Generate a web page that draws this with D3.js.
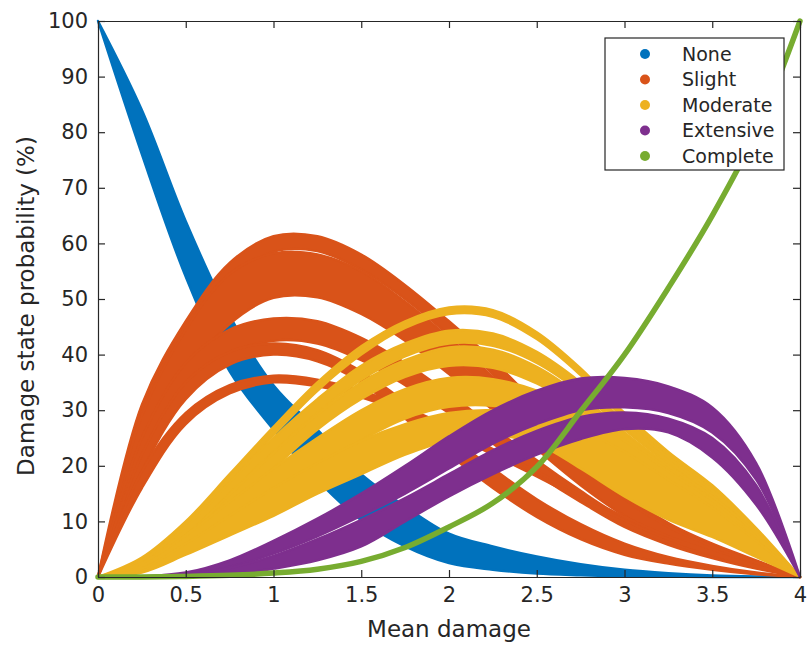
<!DOCTYPE html>
<html lang="en">
<head>
 <meta charset='utf-8'/>
 <title>Damage state probability</title>
 <script src="https://cdn.jsdelivr.net/npm/d3@7/dist/d3.min.js"></script>
 <style>
  body { margin: 0; background: #fff; }
  svg text { font-family: "DejaVu Sans", sans-serif; fill: #262626; }
  .axis path, .axis line { stroke: #262626; stroke-width: 1.2; }
 </style>
</head>
<body>
<svg id="chart" width="808" height="646"></svg>
<script>
// mean damage sample points
var xs = [0, 0.25, 0.5, 0.75, 1, 1.25, 1.5, 1.75, 2, 2.25, 2.5, 2.75, 3, 3.25, 3.5, 3.75, 4];

// probabilities (%), upper / lower edge of each band
var noneHi = [[100, 84, 64, 47, 34.5, 26.5, 18.5, 12.7, 7.8, 5.5, 3.7, 2.3, 1.3, 0.7, 0.3, 0.1, 0]];
var noneLo = [[100, 76, 54, 37, 26.5, 17.4, 10.2, 5.5, 2.5, 1.3, 0.6, 0.3, 0.1, 0.05, 0, 0, 0]];

var slightHi = [
  [0, 31, 46, 56.5, 61.3, 61.3, 58, 52.5, 46, 39, 31, 22.5, 15, 9.7, 6, 3, 0],
  [0, 29, 44.5, 54.5, 58.2, 58, 55, 49.5, 43, 36, 28.5, 21, 14, 9, 5.5, 2.6, 0],
  [0, 25, 38.5, 44.5, 46.5, 46, 43, 38.5, 33, 27, 21, 15.5, 10.5, 6.8, 4, 1.8, 0],
  [0, 22, 35, 40.5, 42, 40.8, 37, 31.5, 25.5, 19.5, 14, 9.5, 6, 3.6, 2, 0.8, 0],
  [0, 19, 29.5, 34.5, 36.2, 35.5, 33.5, 30.5, 27, 23, 19, 14.8, 10.8, 7.3, 4.5, 2, 0]
];
var slightLo = [
  [0, 27, 42.5, 53.5, 58.5, 58.6, 55.3, 50, 43.5, 36.5, 28.5, 20.5, 13.5, 8.6, 5.2, 2.6, 0],
  [0, 22, 36, 45.5, 50.2, 50.3, 47.3, 42.5, 36.5, 30, 23, 16.5, 11, 7, 4.2, 2, 0],
  [0, 20.5, 33.5, 40.2, 42.5, 42, 39, 34.5, 29.5, 24, 18.5, 13.5, 9, 5.8, 3.4, 1.5, 0],
  [0, 19, 32, 38.2, 40, 38.8, 35, 28.5, 22, 16, 10.8, 6.8, 4, 2.4, 1.3, 0.5, 0],
  [0, 16, 27.5, 33, 35, 34.3, 32.3, 29.4, 25.9, 22, 18.1, 14, 10.2, 6.8, 4.1, 1.8, 0]
];

var moderateHi = [
  [0, 3.5, 10, 18.5, 27, 35, 41.5, 46, 48.5, 48, 44, 37.5, 29.5, 22.5, 16.5, 8.8, 0],
  [0, 3, 9, 17, 25, 32, 38, 42, 44.3, 43.8, 40.5, 35, 28, 21.5, 15.5, 8.3, 0],
  [0, 2, 7.5, 14.8, 22.3, 29.2, 35, 39, 41.3, 40.9, 37.8, 32.6, 26, 20, 14.5, 7.8, 0],
  [0, 2.5, 7.5, 13.5, 19.5, 25, 30, 33.8, 35.8, 35.6, 33.5, 29.5, 24.5, 19, 13.8, 7.3, 0],
  [0, 1.5, 6, 11, 16, 20.5, 24.5, 27.5, 29.5, 30, 29, 26.5, 22.5, 17.5, 12.5, 6.5, 0]
];
var moderateLo = [
  [0, 2.8, 8.8, 17, 25.5, 33.5, 40, 44.8, 47.3, 46.8, 42.8, 36.3, 28.4, 21.6, 15.7, 8.3, 0],
  [0, 2, 7.5, 15, 22.5, 29.5, 35.5, 39.7, 42, 41.6, 38.5, 33.2, 26.5, 20.3, 14.5, 7.8, 0],
  [0, 1.2, 5.5, 12, 19.5, 26.5, 32, 36, 38, 37.6, 34.8, 30, 24, 18.3, 13.2, 7.1, 0],
  [0, 1, 4.5, 9.5, 14.5, 19.8, 24.6, 28.5, 30.6, 30.8, 29.5, 26.5, 22.3, 16.8, 11.8, 6.2, 0],
  [0, 0.8, 4, 7.5, 11, 15, 18.5, 22, 24.6, 25.5, 24, 19.5, 14.5, 10.3, 7.2, 3.6, 0]
];

var extensiveHi = [
  [0, 0.1, 0.8, 3, 6.5, 10.5, 15, 20, 25.3, 30, 33.5, 35.7, 35.8, 34.3, 30.5, 20.5, 0],
  [0, 0.05, 0.35, 1.6, 3.8, 6.8, 10.3, 14.2, 18.5, 22.8, 26.3, 28.8, 29.6, 28.5, 25, 16.5, 0]
];
var extensiveLo = [
  [0, 0.05, 0.4, 1.8, 4.2, 7.3, 11, 15, 19.5, 24, 27.5, 30, 30.5, 29.5, 26, 17.5, 0],
  [0, 0, 0.1, 0.4, 1.5, 3, 5.5, 10, 14.5, 18.5, 22, 24.8, 26.6, 26, 21.5, 13, 0]
];

var complete = [0, 0, 0.1, 0.3, 0.7, 1.4, 2.8, 5.3, 9, 13.3, 19.8, 29.8, 40, 52, 65, 80, 100];

var stateNames = ['None', 'Slight', 'Moderate', 'Extensive', 'Complete'];
var colors = ['#0072BD', '#D95319', '#EDB120', '#7E2F8E', '#77AC30'];
var xTicks = [0, 0.5, 1, 1.5, 2, 2.5, 3, 3.5, 4];
var yTicks = [0, 10, 20, 30, 40, 50, 60, 70, 80, 90, 100];

var svg = d3.select('#chart');
var L = 98, R = 800, T = 21, B = 577;

var x = d3.scaleLinear().domain([0, 4]).range([L, R]);
var y = d3.scaleLinear().domain([0, 100]).range([B, T]);

var smooth = d3.curveCatmullRom.alpha(0.5);

var area = d3.area()
  .x(function(d) { return x(d.x); })
  .y0(function(d) { return y(d.lo); })
  .y1(function(d) { return y(d.hi); })
  .curve(smooth);

function bands(hiList, loList) {
  return hiList.map(function(hi, i) {
    return xs.map(function(xv, j) { return {x: xv, hi: hi[j], lo: loList[i][j]}; });
  });
}

var groups = [
  bands(noneHi, noneLo),
  bands(slightHi, slightLo),
  bands(moderateHi, moderateLo),
  bands(extensiveHi, extensiveLo)
];

var plot = svg.append('g');
groups.forEach(function(g, k) {
  plot.selectAll(null).data(g).enter()
    .append('path')
      .attr('d', area)
      .attr('fill', colors[k])
      .attr('stroke', colors[k])
      .attr('stroke-width', 2.4)
      .attr('stroke-linejoin', 'round');
});

var line = d3.line()
  .x(function(d, i) { return x(xs[i]); })
  .y(function(d) { return y(d); })
  .curve(smooth);

plot.append('path')
  .attr('d', line(complete))
  .attr('fill', 'none')
  .attr('stroke', colors[4])
  .attr('stroke-width', 5.5)
  .attr('stroke-linecap', 'round');

// axes, ticks pointing inward, box on
svg.append('g').attr('class', 'axis')
  .attr('transform', 'translate(0,' + B + ')')
  .call(d3.axisBottom(x).tickValues(xTicks).tickFormat(d3.format('')).tickSize(-7).tickSizeOuter(0).tickPadding(10))
  .selectAll('text').style('font-size', '21px');

svg.append('g').attr('class', 'axis')
  .attr('transform', 'translate(' + L + ',0)')
  .call(d3.axisLeft(y).tickValues(yTicks).tickSize(-7).tickSizeOuter(0).tickPadding(10))
  .selectAll('text').style('font-size', '21px');

svg.append('g').attr('class', 'axis')
  .attr('transform', 'translate(0,' + T + ')')
  .call(d3.axisTop(x).tickValues(xTicks).tickFormat('').tickSize(-7).tickSizeOuter(0));

svg.append('g').attr('class', 'axis')
  .attr('transform', 'translate(' + R + ',0)')
  .call(d3.axisRight(y).tickValues(yTicks).tickFormat('').tickSize(-7).tickSizeOuter(0));

svg.selectAll('.axis .domain').attr('stroke', '#262626');

svg.append('text')
  .attr('x', (L + R) / 2).attr('y', 637)
  .attr('text-anchor', 'middle')
  .style('font-size', '23px')
  .text('Mean damage');

svg.append('text')
  .attr('transform', 'translate(34,306) rotate(-90)')
  .attr('text-anchor', 'middle')
  .style('font-size', '23px')
  .text('Damage state probability (%)');

// legend
var lg = svg.append('g').attr('transform', 'translate(605,38)');
lg.append('rect')
  .attr('width', 179).attr('height', 132)
  .attr('fill', '#fff').attr('stroke', '#262626').attr('stroke-width', 1.2);

var item = lg.selectAll('g.item').data(stateNames).enter()
  .append('g').attr('class', 'item')
  .attr('transform', function(d, i) { return 'translate(0,' + (16 + i * 25.5) + ')'; });
item.append('circle')
  .attr('cx', 40).attr('r', 5)
  .attr('fill', function(d, i) { return colors[i]; });
item.append('text')
  .attr('x', 77).attr('dy', '0.36em')
  .style('font-size', '19px')
  .text(function(d) { return d; });
</script>
</body>
</html>
